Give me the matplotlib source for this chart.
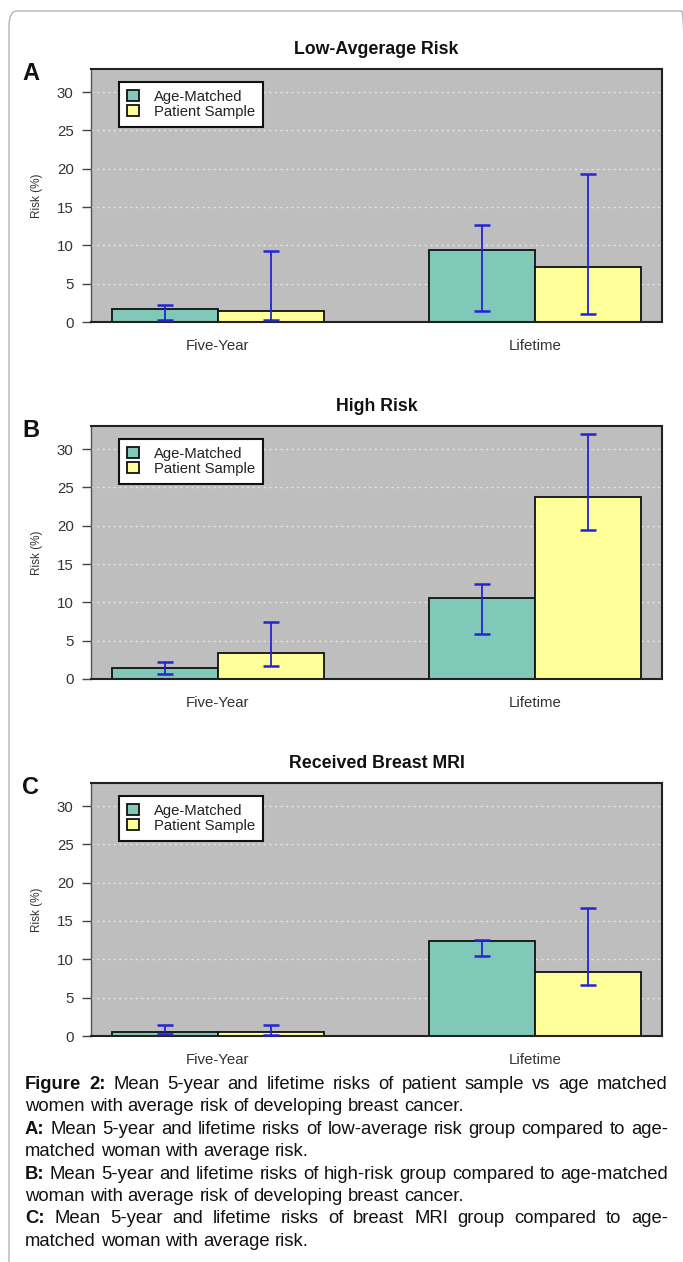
"""
Mean 5-year and lifetime breast cancer risks, three panels (A, B, C) plus caption.
"""
import matplotlib
matplotlib.use("Agg")
import matplotlib.pyplot as plt
from matplotlib.patches import FancyBboxPatch
import numpy as np

plt.rcParams["font.family"] = ["Liberation Sans", "DejaVu Sans"]

# ---- data ----
groups = ["Five-Year", "Lifetime"]
series_names = ["Age-Matched", "Patient Sample"]
panel_letters = ["A", "B", "C"]
panel_titles = ["Low-Avgerage Risk", "High Risk", "Received Breast MRI"]

age_a = [1.7, 9.4]
age_a_lo = [0.3, 1.5]
age_a_hi = [2.2, 12.6]
pat_a = [1.4, 7.2]
pat_a_lo = [0.3, 1.1]
pat_a_hi = [9.2, 19.3]

age_b = [1.4, 10.6]
age_b_lo = [0.6, 5.9]
age_b_hi = [2.2, 12.4]
pat_b = [3.4, 23.7]
pat_b_lo = [1.7, 19.5]
pat_b_hi = [7.5, 32.0]

age_c = [0.5, 12.4]
age_c_lo = [0.3, 10.4]
age_c_hi = [1.4, 12.5]
pat_c = [0.5, 8.4]
pat_c_lo = [0.1, 6.6]
pat_c_hi = [1.4, 16.7]

yticks = [0, 5, 10, 15, 20, 25, 30]

caption_paras = [
    ("Figure 2:", "Mean 5-year and lifetime risks of patient sample vs age matched|"
                  "women with average risk of developing breast cancer."),
    ("A:", "Mean 5-year and lifetime risks of low-average risk group compared to age-|"
           "matched woman with average risk."),
    ("B:", "Mean 5-year and lifetime risks of high-risk group compared to age-matched|"
           "woman with average risk of developing breast cancer."),
    ("C:", "Mean 5-year and lifetime risks of breast MRI group compared to age-|"
           "matched woman with average risk."),
]

# ---- style ----
W, H = 683, 1262
TEAL = "#80c9b8"
YELLOW = "#ffff99"
PANEL_BG = "#bebebe"
ERR = "#2424d6"

fig = plt.figure(figsize=(W / 100, H / 100), dpi=100)
fig.patch.set_facecolor("white")

# rounded outer frame
frame = FancyBboxPatch((9 / W, -20 / H), (690 - 9) / W, (H - 11 + 20) / H,
                       boxstyle="round,pad=0,rounding_size=0.012",
                       transform=fig.transFigure, fill=False,
                       edgecolor="#b4b4b4", lw=1.0, clip_on=False)
fig.add_artist(frame)

panels = [
    (age_a, age_a_lo, age_a_hi, pat_a, pat_a_lo, pat_a_hi),
    (age_b, age_b_lo, age_b_hi, pat_b, pat_b_lo, pat_b_hi),
    (age_c, age_c_lo, age_c_hi, pat_c, pat_c_lo, pat_c_hi),
]
axes_bottom_px = [322, 679, 1036]
ax_left, ax_right, ax_h = 91, 662, 253

for k, (bottom, vals) in enumerate(zip(axes_bottom_px, panels)):
    age, age_lo, age_hi, pat, pat_lo, pat_hi = [np.array(v) for v in vals]
    ax = fig.add_axes([ax_left / W, 1 - bottom / H, (ax_right - ax_left) / W, ax_h / H])
    ax.set_facecolor(PANEL_BG)

    idx = np.arange(len(groups))
    x_age = 1.5 + 3 * idx
    x_pat = 2.5 + 3 * idx

    for yv in yticks[1:]:
        ax.axhline(yv, color="#e4e4e4", lw=1.0, ls=(0, (1.5, 2.5)), zorder=1)

    ax.bar(x_age, age, width=1.0, color=TEAL, edgecolor="#111111", lw=1.3,
           label=series_names[0], zorder=2)
    ax.bar(x_pat, pat, width=1.0, color=YELLOW, edgecolor="#111111", lw=1.3,
           label=series_names[1], zorder=2)

    ax.errorbar(x_age, age, yerr=[age - age_lo, age_hi - age], fmt="none",
                ecolor=ERR, elinewidth=1.3, capsize=5.5, capthick=1.8, zorder=3)
    ax.errorbar(x_pat, pat, yerr=[pat - pat_lo, pat_hi - pat], fmt="none",
                ecolor=ERR, elinewidth=1.3, capsize=5.5, capthick=1.8, zorder=3)

    ax.set_xlim(0.8, 6.2)
    ax.set_ylim(0, 33)
    ax.set_yticks(yticks)
    ax.set_xticks((x_age + x_pat) / 2)
    ax.set_xticklabels(groups)
    ax.tick_params(axis="x", length=0, pad=12, labelsize=10.8, labelcolor="#333333")
    ax.tick_params(axis="y", length=6.5, width=1.0, color="#444444", pad=6,
                   labelsize=10.8, labelcolor="#333333")
    for sp in ax.spines.values():
        sp.set_color("#222222")
        sp.set_linewidth(1.5)
    ax.spines["left"].set_color("#555555")
    ax.spines["left"].set_linewidth(1.0)

    ax.set_ylabel("Risk (%)", fontsize=8.5, color="#333333", labelpad=10)
    ax.set_title(panel_titles[k], fontsize=12.8, fontweight="bold", pad=11,
                 color="#111111")

    top_px = bottom - ax_h
    fig.text(22 / W, 1 - (top_px + 11) / H, panel_letters[k], fontsize=17,
             fontweight="bold", ha="left", va="baseline", color="#111111")

    leg = ax.legend(loc="upper left", bbox_to_anchor=(0.049, 0.95), fontsize=10.7,
                    frameon=True, fancybox=False, framealpha=1.0, handlelength=0.8,
                    handleheight=0.7, handletextpad=1.0, labelspacing=0.05,
                    borderpad=0.55, borderaxespad=0)
    leg.get_frame().set_edgecolor("#111111")
    leg.get_frame().set_linewidth(1.5)
    leg.get_frame().set_facecolor("white")
    for t in leg.get_texts():
        t.set_color("#222222")

# ---- caption with justified lines ----
renderer = fig.canvas.get_renderer()
left_px, right_px = 25, 668
line_y = 1089
line_step = 22.4
fs = 13.3


def draw_line(words, y_px, justify):
    objs = []
    widths = []
    for w, bold in words:
        t = fig.text(0, 1 - y_px / H, w, fontsize=fs, ha="left", va="baseline",
                     fontweight="bold" if bold else "normal", color="#111111")
        bb = t.get_window_extent(renderer=renderer)
        objs.append(t)
        widths.append(bb.width)
    t1 = fig.text(0, 0, "a b", fontsize=fs)
    t2 = fig.text(0, 0, "ab", fontsize=fs)
    space = t1.get_window_extent(renderer=renderer).width - \
        t2.get_window_extent(renderer=renderer).width
    t1.remove()
    t2.remove()
    if justify and len(objs) > 1:
        gap = (right_px - left_px - sum(widths)) / (len(objs) - 1)
    else:
        gap = space
    x = left_px
    for t, w in zip(objs, widths):
        t.set_x(x / W)
        x += w + gap


for label, body in caption_paras:
    first, second = body.split("|")
    words1 = [(w, True) for w in label.split()] + [(w, False) for w in first.split()]
    draw_line(words1, line_y, True)
    line_y += line_step
    draw_line([(w, False) for w in second.split()], line_y, False)
    line_y += line_step

fig.savefig("out.png", dpi=100)
